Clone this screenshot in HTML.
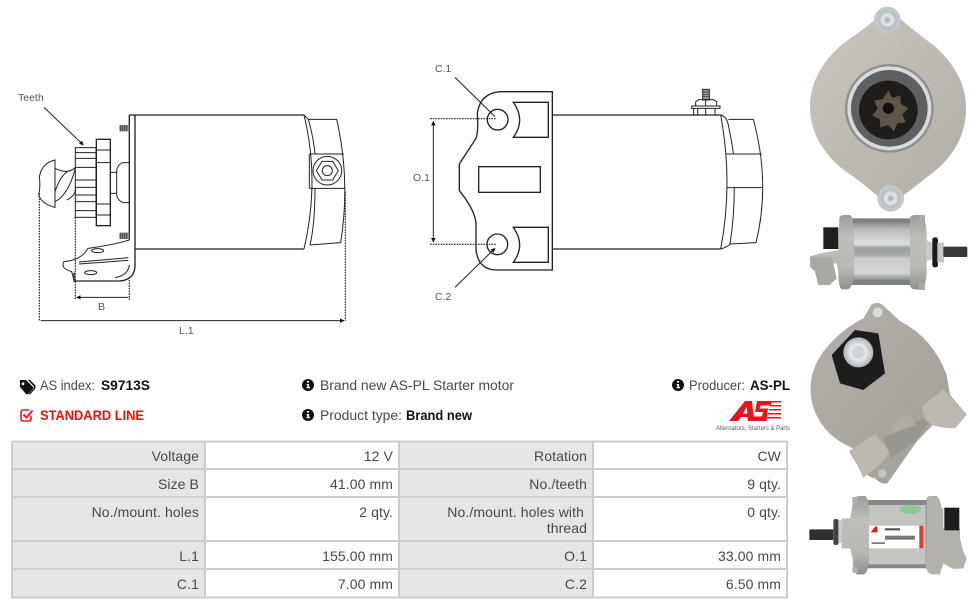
<!DOCTYPE html>
<html><head><meta charset="utf-8">
<style>
html,body{margin:0;padding:0;background:#fff}
svg{display:block}
text{font-family:"Liberation Sans",sans-serif}
.c{font-size:14px;fill:#484848;text-anchor:end;letter-spacing:.1px}
.i{font-size:14px;fill:#484848}
.d{font-size:10.5px;fill:#555}
.l{fill:none;stroke:#222;stroke-width:4}
.t{fill:none;stroke:#222;stroke-width:3}
.o{fill:none;stroke:#222;stroke-width:3.5;stroke-dasharray:5 3}
</style></head><body>
<svg width="976" height="608" viewBox="0 0 976 608" xmlns="http://www.w3.org/2000/svg">
<defs>
<marker id="a" viewBox="0 0 10 10" refX="9" refY="5" markerWidth="4.5" markerHeight="4.5" orient="auto-start-reverse"><path d="M0 0L10 5L0 10Z" fill="#111"/></marker>
<linearGradient id="cy" x1="0" y1="0" x2="0" y2="1"><stop offset="0" stop-color="#8b8e8e"/><stop offset=".12" stop-color="#b9bcbb"/><stop offset=".38" stop-color="#dfe1df"/><stop offset=".44" stop-color="#9c9f9f"/><stop offset=".56" stop-color="#a4a7a7"/><stop offset=".62" stop-color="#c9ccca"/><stop offset=".88" stop-color="#d3d5d3"/><stop offset="1" stop-color="#8b8e8e"/></linearGradient>
<linearGradient id="cy2" x1="0" y1="0" x2="0" y2="1"><stop offset="0" stop-color="#9c9d99"/><stop offset=".3" stop-color="#bdbeb9"/><stop offset=".7" stop-color="#b9bab5"/><stop offset="1" stop-color="#8f908c"/></linearGradient>
<radialGradient id="bolt"><stop offset="0" stop-color="#9aa0a4"/><stop offset=".5" stop-color="#e8ebec"/><stop offset="1" stop-color="#aeb4b7"/></radialGradient>
<linearGradient id="cast" x1="0" y1="0" x2="1" y2="1"><stop offset="0" stop-color="#c8c6bf"/><stop offset="1" stop-color="#b0aea7"/></linearGradient>
<linearGradient id="cast2" x1="0" y1="0" x2="1" y2="1"><stop offset="0" stop-color="#b2b0a9"/><stop offset="1" stop-color="#a09e97"/></linearGradient>
</defs>

<!-- Left drawing -->
<g transform="translate(0,80) scale(.33333)">
<path class="l" d="M388 105H912M405 507H912M388 105V480M405 105V555Q405 600 358 603H222V578"/>
<path class="t" d="M912 105Q960 300 912 507M912 105L925 118Q940 170 945 222M925 118H1010Q1052 300 1022 488L930 495M945 325Q945 430 930 495"/>
<path class="t" d="M928 222H1032M928 325H1036M928 222V325"/>
<circle class="t" cx="982" cy="272" r="43"/>
<path class="t" d="M1015 272L998 300H966L949 272L966 244H998Z"/>
<circle class="t" cx="982" cy="272" r="15"/>
<rect x="358" y="135" width="30" height="19" fill="#888"/>
<rect x="358" y="458" width="30" height="19" fill="#888"/>
<path d="M361 135V154M367 135V154M373 135V154M379 135V154M361 458V477M367 458V477M373 458V477M379 458V477" stroke="#333" stroke-width="2"/>
<path class="t" d="M388 248H368Q350 255 350 277V340Q350 360 370 368H388M331 277H350M331 340H350"/>
<rect class="l" x="289" y="178" width="42" height="259"/>
<path class="t" d="M289 210H331M289 248H331M289 372H331M289 405H331"/>
<rect class="t" x="226" y="203" width="62" height="209"/>
<path class="t" d="M226 218H288M226 235H288M226 262H288M226 300H288M226 322H288M226 345H288M226 365H288M226 392H288"/>
<path class="t" d="M118 292Q124 250 165 240V382Q125 372 116 345Q122 320 118 292Z"/>
<path class="t" d="M165 265Q205 285 226 262M165 365Q205 345 226 265M165 335Q185 275 215 270M200 360Q230 345 226 320"/>
<path class="t" d="M388 480Q340 495 264 505Q245 540 192 545Q180 565 215 575L222 600M237 552L385 541M237 546L385 533M388 555Q385 585 345 593"/>
<ellipse class="t" cx="293" cy="512" rx="18" ry="6"/>
<ellipse class="t" cx="272" cy="578" rx="18" ry="6"/>
<path class="o" d="M226 412V660M388 600V660M118 340V722M1036 335V722"/>
<path class="t" d="M230 652H385M122 722H1032" marker-start="url(#a)" marker-end="url(#a)"/>
<path class="t" d="M132 82L250 195" marker-end="url(#a)"/>
</g>
<text class="d" x="18" y="101">Teeth</text>
<text class="d" x="98" y="310">B</text>
<text class="d" x="179" y="334">L.1</text>

<!-- Center drawing -->
<g transform="translate(400,50) scale(.33333)">
<path class="l" d="M457 125H300Q240 130 232 190Q236 240 228 265L178 342V422Q225 480 228 520V600Q235 660 290 660H457Z"/>
<path class="l" d="M340 157H445V262H340Q378 210 340 157ZM340 532H445V637H340Q378 585 340 532Z"/>
<circle class="l" cx="293" cy="209" r="31"/>
<circle class="l" cx="292" cy="583" r="31"/>
<rect class="l" x="236" y="350" width="185" height="77"/>
<path class="l" d="M457 195H962M457 597H962"/>
<path class="t" d="M962 195Q1000 400 962 597M962 195Q980 200 985 225Q1000 300 1000 312M962 597Q985 590 990 582Q1003 500 1003 413M985 208H1060Q1112 400 1068 578L990 582M978 312H1085M982 413H1088"/>
<rect x="908" y="118" width="20" height="32" fill="#999" stroke="#222" stroke-width="3"/>
<path d="M908 126H928M908 133H928M908 140H928" stroke="#333" stroke-width="2"/>
<path class="t" d="M887 168V155L897 149H940L950 155V168M875 168H960V175H875ZM881 175V197M945 175V197M893 175V197M917 175V197M917 149V168"/>
<path class="o" d="M90 206H290M90 583H290"/>
<path class="t" d="M100 214V576" marker-start="url(#a)" marker-end="url(#a)"/>
<path class="t" d="M165 82L285 200M165 712L285 595" marker-end="url(#a)"/>
</g>
<text class="d" x="435" y="72">C.1</text>
<text class="d" x="413" y="181">O.1</text>
<text class="d" x="435" y="300">C.2</text>

<!-- Photo 1 -->
<g transform="translate(800,0) scale(.33333)">
<path d="M225 60L305 60Q345 95 400 135Q498 220 498 325Q498 425 420 500Q360 550 305 590L235 590Q190 550 125 505Q30 425 30 320Q30 215 130 130Q180 95 225 60Z" fill="url(#cast)"/>
<circle cx="268" cy="325" r="133" fill="#8f8e8a"/>
<circle cx="268" cy="325" r="126" fill="#d9dadb"/>
<circle cx="268" cy="325" r="115" fill="#5d5f60"/>
<circle cx="265" cy="330" r="88" fill="#1d1c1b"/>
<path d="M265 272l12 22 24-8 1 25 23 14-18 18 10 24-25 3-10 24-17-19-24 8-2-25-22-12 16-20-10-24 25-5z" fill="#5d5649"/>
<circle cx="265" cy="325" r="17" fill="#111"/>
<circle cx="262" cy="60" r="40" fill="#c3c8ca"/>
<circle cx="262" cy="60" r="28" fill="url(#bolt)"/>
<circle cx="272" cy="595" r="40" fill="#c3c8ca"/>
<circle cx="272" cy="595" r="28" fill="url(#bolt)"/>
</g>

<!-- Photo 2 -->
<g transform="translate(800,0) scale(.33333)">
<rect x="155" y="655" width="180" height="200" fill="#7f8284"/>
<rect x="160" y="668" width="172" height="172" fill="url(#cy)"/>
<path d="M118 655Q118 645 135 645H150Q160 650 162 700V815Q160 868 140 868H125Q115 860 115 820L110 790H30V770L60 760L115 750Z" fill="url(#cy2)"/>
<path d="M330 655Q330 645 345 645H360Q378 650 380 700V815Q378 865 360 868H345Q330 868 330 850Z" fill="url(#cy2)"/>
<path d="M30 770H95L110 835L90 855H55L45 815L30 800Z" fill="#a9a8a3"/>
<rect x="70" y="682" width="45" height="65" fill="#1e1e1e"/>
<path d="M378 720L400 730V775L378 785Z" fill="#c9cbcb"/>
<rect x="397" y="712" width="17" height="90" rx="7" fill="#1b1b1b"/>
<rect x="412" y="728" width="20" height="60" fill="#c5c7c7"/>
<rect x="430" y="740" width="72" height="31" rx="3" fill="#38383a"/>
<rect x="357" y="645" width="18" height="20" fill="#aaa"/><rect x="357" y="850" width="18" height="20" fill="#aaa"/>
</g>

<!-- Photo 3 -->
<g transform="translate(800,295) scale(.33333)">
<path d="M215 28Q232 18 248 30L300 78Q400 130 440 240L450 300L500 358L465 400L400 388L350 440L262 565Q245 570 225 550Q190 547 148 470L160 460Q60 420 35 320Q20 240 70 170Q120 105 190 70Z" fill="url(#cast2)"/>
<path d="M365 335L430 283L500 358L465 400Q430 400 395 390L375 370Z" fill="#bab8b1"/>
<path d="M150 465L225 418L270 470L240 510L190 548Z" fill="#bab8b1"/>
<path d="M250 430L370 370L385 385L345 440L275 490Z" fill="#989690"/>
<path d="M275 415Q280 365 315 362Q345 370 345 390Z" fill="#aeaca5"/>
<path d="M165 105L235 115L255 235L190 285L120 265L95 180Z" fill="#1c1c1c"/>
<circle cx="175" cy="172" r="45" fill="url(#bolt)"/>
<circle cx="175" cy="172" r="17" fill="#cfd3d5"/>
<circle cx="233" cy="52" r="15" fill="#d8dadb"/>
<circle cx="247" cy="535" r="13" fill="#c2c5c6"/>
</g>

<!-- Photo 4 -->
<g transform="translate(800,295) scale(.33333)">
<rect x="200" y="615" width="185" height="205" fill="#85888a"/>
<rect x="205" y="630" width="172" height="178" fill="#c3c5c1"/>
<path d="M160 610Q165 603 185 603H195Q207 610 207 650V790Q205 835 190 838H170Q160 830 158 790L150 760H125V670H150Q155 650 160 610Z" fill="url(#cy2)"/>
<path d="M380 610Q380 603 395 603H410Q420 610 425 640L430 640V700L480 700V730L490 770L500 790L490 820L460 822L430 805L420 838H395Q380 835 378 815Z" fill="#b3b2ac"/>
<rect x="433" y="638" width="45" height="68" fill="#1d1d1d"/>
<rect x="105" y="675" width="20" height="70" rx="6" fill="#c9cbcb"/>
<rect x="100" y="672" width="15" height="78" rx="6" fill="#1d1d1d" opacity=".8"/>
<rect x="28" y="703" width="72" height="32" rx="3" fill="#2f2f31"/>
<rect x="207" y="692" width="163" height="68" fill="#fff"/>
<rect x="358" y="692" width="12" height="68" fill="#e2382f"/>
<path d="M212 712L225 695H232V712Z" fill="#e21c1c"/>
<rect x="255" y="700" width="45" height="6" fill="#444"/>
<rect x="255" y="722" width="90" height="12" fill="#777"/>
<rect x="215" y="742" width="40" height="5" fill="#777"/>
<ellipse cx="330" cy="643" rx="33" ry="14" fill="#8cc89a"/>
<rect x="157" y="606" width="16" height="18" fill="#b0b0b0"/><rect x="157" y="815" width="16" height="18" fill="#b0b0b0"/>
</g>

<!-- Info rows -->
<g transform="translate(20,379)" fill="#111">
<path d="M0 1H6L13 8Q14 9 13 10L8 15Q7 16 6 15L0 8ZM3 3.400a1.400 1.400 0 1 0 .01 0Z" fill-rule="evenodd"/>
<path d="M8 1H10L15 6Q16 8 15 10L10 15.500L8.500 15L13.500 10Q14.500 8.500 13.500 7Z"/>
</g>
<text class="i" x="40" y="390" textLength="55" lengthAdjust="spacingAndGlyphs">AS index:</text>
<text x="101" y="390" font-size="14" font-weight="700" fill="#111" textLength="49" lengthAdjust="spacingAndGlyphs">S9713S</text>
<g transform="translate(20,408)" fill="none" stroke="#ee1c25" stroke-width="1.6">
<path d="M11 7.500V11Q11 13 9 13H3Q1 13 1 11V4Q1 2 3 2H9.500"/>
<path d="M3.500 6.500L6.500 9.500L12.500 2.500" stroke-width="2"/>
</g>
<text x="40" y="420" font-size="14" font-weight="700" fill="#f00d0d" textLength="104" lengthAdjust="spacingAndGlyphs">STANDARD LINE</text>

<g fill="#111">
<circle cx="308" cy="385" r="6"/><circle cx="308" cy="415" r="6"/><circle cx="678" cy="385" r="6"/>
</g>
<path d="M307 381h2v1.600h-2zM306.600 384h2.500v3h.9v1.300h-3.400v-1.300h.8v-1.700h-.8zM307 411h2v1.600h-2zM306.600 414h2.500v3h.9v1.300h-3.400v-1.300h.8v-1.700h-.8zM677 381h2v1.600h-2zM676.600 384h2.500v3h.9v1.300h-3.400v-1.300h.8v-1.700h-.8z" fill="#fff"/>
<text class="i" x="320" y="390" textLength="194" lengthAdjust="spacingAndGlyphs">Brand new AS-PL Starter motor</text>
<text class="i" x="320" y="420" textLength="82" lengthAdjust="spacingAndGlyphs">Product type:</text>
<text x="406" y="420" font-size="14" font-weight="700" fill="#111" textLength="66" lengthAdjust="spacingAndGlyphs">Brand new</text>
<text class="i" x="689" y="390" textLength="56" lengthAdjust="spacingAndGlyphs">Producer:</text>
<text x="750" y="390" font-size="14" font-weight="700" fill="#111" textLength="40" lengthAdjust="spacingAndGlyphs">AS-PL</text>

<!-- Logo -->
<path d="M729 421L745 401H752L754 421H748L747.500 417H741L738 421ZM743 413.500H747.300L746.800 407Z" fill="#e8141c"/>
<path d="M757 401H772L770.500 405.500H760.500L759.500 408.500H768L766.500 421H751L752.500 416.500H762L763 412H755Z" fill="#e8141c"/>
<path d="M771 401H781V402.500H771ZM770 405H781V406.500H770ZM769 409H781V410.500H769ZM768 413H781V414.500H768ZM767 417H781V418.500H767Z" fill="#e8141c"/>
<text x="716" y="430" font-size="6" fill="#555" textLength="74" lengthAdjust="spacingAndGlyphs">Alternators, Starters &amp; Parts</text>

<!-- Table -->
<rect x="12" y="442" width="193" height="155" fill="#e6e6e6"/>
<rect x="399" y="442" width="194" height="155" fill="#e6e6e6"/>
<path d="M12 441.500H787M11.500 469H787M11.500 497H787M11.500 541H787M11.500 569H787M11.500 597.500H787" stroke="#ccc" stroke-width="2" fill="none"/>
<path d="M12 441V598M205 441V598M399 441V598M593 441V598M787 441V598" stroke="#ccc" stroke-width="2" fill="none"/>

<text class="c" x="199" y="461">Voltage</text><text class="c" x="393" y="461">12 V</text><text class="c" x="587" y="461">Rotation</text><text class="c" x="781" y="461">CW</text>
<text class="c" x="199" y="489">Size B</text><text class="c" x="393" y="489">41.00 mm</text><text class="c" x="587" y="489">No./teeth</text><text class="c" x="781" y="489">9 qty.</text>
<text class="c" x="199" y="517">No./mount. holes</text><text class="c" x="393" y="517">2 qty.</text><text class="c" x="584" y="517">No./mount. holes with</text><text class="c" x="781" y="517">0 qty.</text>
<text class="c" x="587" y="533">thread</text>
<text class="c" x="199" y="561">L.1</text><text class="c" x="393" y="561">155.00 mm</text><text class="c" x="587" y="561">O.1</text><text class="c" x="781" y="561">33.00 mm</text>
<text class="c" x="199" y="589">C.1</text><text class="c" x="393" y="589">7.00 mm</text><text class="c" x="587" y="589">C.2</text><text class="c" x="781" y="589">6.50 mm</text>
</svg>
</body></html>
